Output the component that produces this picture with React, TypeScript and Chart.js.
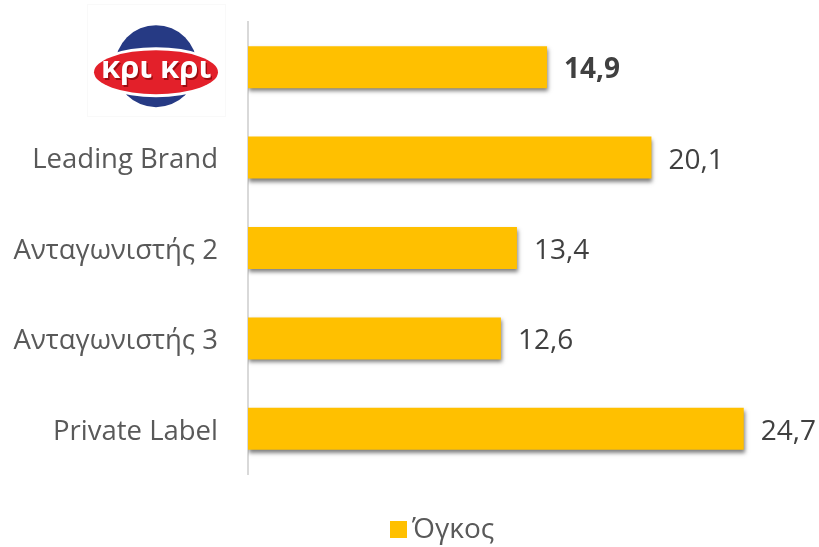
import React, { useEffect, useRef } from "react";
import { Chart, registerables } from "chart.js";

Chart.register(...registerables);

const categories = ["κρι κρι", "Leading Brand", "Ανταγωνιστής 2", "Ανταγωνιστής 3", "Private Label"];
const volumeValues = [14.9, 20.1, 13.4, 12.6, 24.7];
const seriesName = "Όγκος";

const FONT = "'Open Sans', 'Noto Sans', sans-serif";
const BAR_COLOR = "#ffc000";

const fmt = (v: number) => v.toFixed(1).replace(".", ",");

const shadowPlugin = {
  id: "barShadow",
  beforeDatasetDraw(chart: any) {
    const ctx = chart.ctx;
    ctx.save();
    ctx.shadowColor = "rgba(0,0,0,0.5)";
    ctx.shadowBlur = 4;
    ctx.shadowOffsetX = 1;
    ctx.shadowOffsetY = 3;
  },
  afterDatasetDraw(chart: any) {
    chart.ctx.restore();
  },
};

const valueLabelPlugin = {
  id: "valueLabels",
  afterDatasetsDraw(chart: any) {
    const ctx = chart.ctx;
    const meta = chart.getDatasetMeta(0);
    ctx.save();
    ctx.textBaseline = "middle";
    ctx.textAlign = "left";
    meta.data.forEach((bar: any, i: number) => {
      ctx.font = (i === 0 ? "bold " : "") + "28px " + FONT;
      ctx.fillStyle = "#404040";
      ctx.fillText(fmt(volumeValues[i]), bar.x + 17, bar.y + 3);
    });
    ctx.restore();
  },
};

const legendPlugin = {
  id: "customLegend",
  afterDraw(chart: any) {
    const ctx = chart.ctx;
    ctx.save();
    ctx.fillStyle = BAR_COLOR;
    ctx.fillRect(390, 521, 17, 17);
    ctx.font = "28px " + FONT;
    ctx.fillStyle = "#595959";
    ctx.textAlign = "left";
    ctx.textBaseline = "middle";
    ctx.fillText(seriesName, 412, 530);
    ctx.restore();
  },
};

const logoPlugin = {
  id: "logo",
  afterDraw(chart: any) {
    const yScale = chart.scales.y;
    const cy = yScale.getPixelForValue(0);
    const cx = 156;
    const ctx = chart.ctx;
    ctx.save();
    ctx.strokeStyle = "#f9f9f9";
    ctx.lineWidth = 1;
    ctx.strokeRect(87.5, 4.5, 138, 112);
    ctx.beginPath();
    ctx.arc(cx, cy - 1, 41, 0, Math.PI * 2);
    ctx.fillStyle = "#263a84";
    ctx.fill();
    ctx.beginPath();
    ctx.ellipse(cx, cy + 5, 65, 25, 0, 0, Math.PI * 2);
    ctx.fillStyle = "#ffffff";
    ctx.fill();
    ctx.beginPath();
    ctx.ellipse(cx, cy + 5, 62, 22, 0, 0, Math.PI * 2);
    ctx.fillStyle = "#e3202a";
    ctx.fill();
    ctx.font = "bold 31px " + FONT;
    ctx.textAlign = "center";
    ctx.textBaseline = "middle";
    ctx.fillStyle = "rgba(110,0,0,0.6)";
    ctx.fillText(categories[0], cx + 1.5, cy + 3.5);
    ctx.fillStyle = "#ffffff";
    ctx.fillText(categories[0], cx, cy + 2);
    ctx.restore();
  },
};

export default function App() {
  const ref = useRef<HTMLCanvasElement>(null);
  useEffect(() => {
    if (!ref.current) return;
    const chart = new Chart(ref.current, {
      type: "bar",
      data: {
        labels: categories,
        datasets: [
          {
            label: seriesName,
            data: volumeValues,
            backgroundColor: BAR_COLOR,
            borderWidth: 0,
            categoryPercentage: 1,
            barPercentage: 0.465,
          },
        ],
      },
      options: {
        indexAxis: "y",
        animation: false,
        responsive: true,
        maintainAspectRatio: false,
        layout: { padding: { top: 22, right: 9, left: 0, bottom: 73 } },
        scales: {
          x: {
            display: false,
            min: 0,
            max: 28,
          },
          y: {
            grid: { display: false, drawTicks: false },
            border: { display: true, color: "#d9d9d9", width: 2 },
            ticks: {
              padding: 30,
              labelOffset: 3,
              color: "#595959",
              font: { family: FONT, size: 27.5 },
              callback: (_v: any, i: number) => (i === 0 ? "" : categories[i]),
            },
            afterFit: (s: any) => {
              s.width = 248;
              s.paddingTop = 0;
              s.paddingBottom = 0;
            },
          },
        },
        plugins: {
          legend: { display: false },
          tooltip: { enabled: false },
        },
      },
      plugins: [shadowPlugin, valueLabelPlugin, logoPlugin, legendPlugin],
    });
    return () => chart.destroy();
  }, []);
  return (
    <div style={{ position: "absolute", left: 0, top: 0, width: 819, height: 547, background: "#fff" }}>
      <canvas ref={ref} />
    </div>
  );
}
